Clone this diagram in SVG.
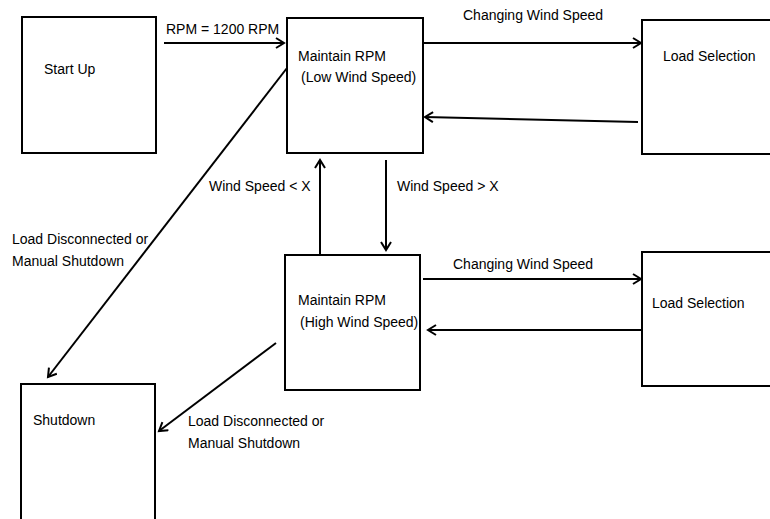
<svg xmlns="http://www.w3.org/2000/svg" width="770" height="519" viewBox="0 0 770 519">
<style>
.box{fill:#fff;stroke:#000;stroke-width:2}
.lbl{font-family:"Liberation Sans",Arial,sans-serif;font-size:14px;fill:#000}
.conn{stroke:#000;stroke-width:2;fill:none;marker-end:url(#ah)}
</style>
<defs>
<marker id="ah" markerUnits="userSpaceOnUse" markerWidth="14" markerHeight="14" refX="10" refY="6" orient="auto">
<path d="M2,1 L10,6 L2,11" fill="none" stroke="#000" stroke-width="2"/>
</marker>
</defs>
<rect width="770" height="519" fill="#fff"/>
<g id="start-up"><rect class="box" x="22" y="17" width="134" height="136"/><text class="lbl" x="44" y="74">Start Up</text></g>
<g id="maintain-low"><rect class="box" x="287" y="18" width="136" height="135"/><text class="lbl" x="298" y="61">Maintain RPM</text><text class="lbl" x="301" y="82">(Low Wind Speed)</text></g>
<g id="load-selection-1"><rect class="box" x="642" y="20" width="140" height="134"/><text class="lbl" x="663" y="61">Load Selection</text></g>
<g id="maintain-high"><rect class="box" x="285" y="255" width="135" height="135"/><text class="lbl" x="298" y="305">Maintain RPM</text><text class="lbl" x="300" y="327">(High Wind Speed)</text></g>
<g id="load-selection-2"><rect class="box" x="642" y="252" width="140" height="134"/><text class="lbl" x="652" y="308">Load Selection</text></g>
<g id="shutdown"><rect class="box" x="21" y="384" width="134" height="145"/><text class="lbl" x="33" y="425">Shutdown</text></g>
<g id="connectors">
<line class="conn" x1="164" y1="43" x2="284" y2="43"/>
<text class="lbl" x="166" y="34">RPM = 1200 RPM</text>
<line class="conn" x1="424" y1="43" x2="641" y2="43"/>
<text class="lbl" x="463" y="20">Changing Wind Speed</text>
<line class="conn" x1="638" y1="122" x2="425" y2="117"/>
<line class="conn" x1="320" y1="254" x2="320" y2="160"/>
<text class="lbl" x="209" y="191">Wind Speed &lt; X</text>
<line class="conn" x1="386" y1="160" x2="386" y2="250"/>
<text class="lbl" x="397" y="191">Wind Speed &gt; X</text>
<line class="conn" x1="423" y1="279" x2="641" y2="279"/>
<text class="lbl" x="453" y="269">Changing Wind Speed</text>
<line class="conn" x1="641" y1="330" x2="428" y2="330"/>
<line class="conn" x1="287" y1="68" x2="48" y2="377"/>
<text class="lbl" x="12" y="244">Load Disconnected or</text>
<text class="lbl" x="12" y="266">Manual Shutdown</text>
<line class="conn" x1="276" y1="343" x2="159" y2="431"/>
<text class="lbl" x="188" y="426">Load Disconnected or</text>
<text class="lbl" x="188" y="448">Manual Shutdown</text>
</g>
</svg>
